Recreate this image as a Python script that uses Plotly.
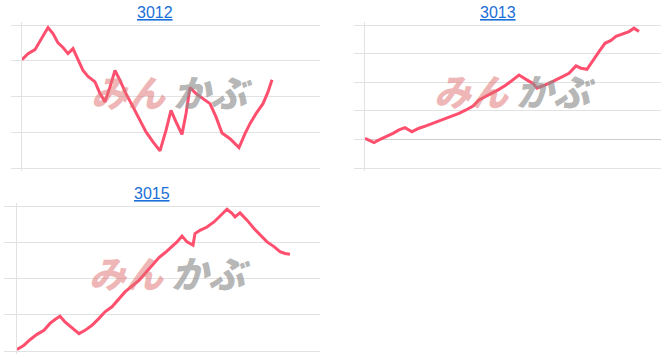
import plotly.graph_objects as go

W, H = 666, 357

# ---- data (x = trading-day offset, y = relative price level) ----
names = ["3012", "3013", "3015"]

days_3012 = [0, 6, 13, 19, 26, 31, 36, 41, 46, 51, 56, 61, 66, 73, 78, 83, 88, 93, 98, 104,
             111, 118, 124, 131, 138, 144, 149, 154, 160, 164, 168, 174, 181, 188, 194, 200,
             208, 217, 223, 228, 234, 241, 246, 250]
vals_3012 = [3.03, 3.20, 3.31, 3.59, 3.93, 3.76, 3.50, 3.37, 3.20, 3.34, 3.01, 2.73, 2.56, 2.41,
             2.08, 1.85, 2.27, 2.73, 2.45, 2.08, 1.71, 1.33, 1.01, 0.73, 0.48, 1.05, 1.61, 1.29,
             0.94, 1.52, 2.25, 2.08, 1.94, 1.80, 1.43, 0.98, 0.82, 0.57, 0.96, 1.24, 1.52, 1.80,
             2.13, 2.47]

days_3013 = [0, 4, 9, 14, 21, 28, 34, 40, 47, 54, 61, 68, 74, 81, 88, 94, 101, 108, 114, 121,
             128, 134, 141, 148, 154, 161, 168, 172, 178, 184, 191, 198, 204, 211, 216, 222, 228,
             234, 240, 246, 251, 258, 264, 269, 274]
vals_3013 = [0.04, -0.02, -0.11, -0.02, 0.09, 0.21, 0.33, 0.41, 0.27, 0.39, 0.47, 0.56, 0.65,
             0.74, 0.82, 0.91, 1.03, 1.17, 1.38, 1.50, 1.64, 1.75, 1.90, 2.08, 2.25, 2.10, 1.96,
             1.79, 1.87, 1.96, 2.08, 2.20, 2.31, 2.57, 2.49, 2.45, 2.78, 3.07, 3.36, 3.46, 3.60,
             3.69, 3.77, 3.89, 3.77]

days_3015 = [0, 7, 13, 20, 27, 33, 38, 43, 48, 55, 62, 68, 75, 82, 88, 95, 102, 108, 115, 122,
             128, 135, 142, 148, 155, 160, 165, 170, 176, 178, 183, 190, 197, 203, 210, 215, 218,
             223, 230, 237, 243, 250, 257, 263, 268, 273]
vals_3015 = [0.04, 0.16, 0.31, 0.46, 0.57, 0.76, 0.87, 0.96, 0.80, 0.65, 0.48, 0.57, 0.71, 0.90,
             1.08, 1.22, 1.45, 1.63, 1.79, 1.95, 2.14, 2.37, 2.58, 2.71, 2.88, 3.01, 3.17, 3.01,
             2.92, 3.24, 3.33, 3.42, 3.56, 3.72, 3.91, 3.80, 3.70, 3.81, 3.61, 3.38, 3.20, 3.01,
             2.88, 2.74, 2.69, 2.67]

x_ranges = [[0, 298], [0, 296], [0, 303]]
y_grid = [[0, 4], [-1, 4], [0, 4]]   # first/last gridline values

# ---- layout in pixels ----
LINE = "#ff4f6e"
GRID = "#e2e2e2"
panels = [  # left, right, top gridline, bottom gridline (px)
    (22, 320, 25, 168),
    (365, 661, 25, 168),
    (17, 320, 206, 351),
]
PAD = 3  # px of extra plot area beyond the outer gridlines
ticklens = [10, 10, 12]
titles_pos = [(155, 13), (498, 13), (152, 193)]
wm_pos = [(171, 91), (514, 90), (169, 272)]

series = [(days_3012, vals_3012), (days_3013, vals_3013), (days_3015, vals_3015)]

fig = go.Figure()
layout = dict(
    width=W, height=H, margin=dict(l=0, r=0, t=0, b=0),
    paper_bgcolor="white", plot_bgcolor="white", showlegend=False,
    font=dict(family="Liberation Sans, Arial, sans-serif"),
)
annotations = []

for i, ((xs, ys), (l, r, t, b)) in enumerate(zip(series, panels)):
    n = "" if i == 0 else str(i + 1)
    g0, g1 = y_grid[i]
    upp = (g1 - g0) / (b - t)  # units per pixel
    yr = [g0 - PAD * upp, g1 + PAD * upp]
    fig.add_trace(go.Scatter(x=xs, y=ys, mode="lines", xaxis="x" + n, yaxis="y" + n,
                             line=dict(color=LINE, width=3), hoverinfo="skip"))
    layout["xaxis" + n] = dict(domain=[l / W, r / W], range=x_ranges[i], anchor="y" + n,
                               showgrid=False, zeroline=False, showline=False,
                               showticklabels=False, ticks="", fixedrange=True)
    layout["yaxis" + n] = dict(domain=[1 - (b + PAD) / H, 1 - (t - PAD) / H], range=yr,
                               anchor="x" + n,
                               dtick=1, tick0=0, showgrid=True, gridcolor=GRID, gridwidth=1,
                               zeroline=(i == 1), zerolinecolor="#cdcdcd", zerolinewidth=1,
                               showline=True, linecolor=GRID, linewidth=1,
                               ticks="outside", ticklen=ticklens[i], tickcolor=GRID, tickwidth=1,
                               showticklabels=False, fixedrange=True)
    tx, ty = titles_pos[i]
    annotations.append(dict(
        x=tx / W, y=1 - ty / H, xref="paper", yref="paper", xanchor="center", yanchor="middle",
        text="<span style='text-decoration:underline'>" + names[i] + "</span>",
        showarrow=False, font=dict(size=16, color="#1a6fd8", family="Liberation Sans, Arial")))
    wx, wy = wm_pos[i]
    annotations.append(dict(
        x=(wx - 42) / W, y=1 - wy / H, xref="paper", yref="paper", xanchor="center",
        yanchor="middle", text="みん", showarrow=False,
        font=dict(size=37, color="rgba(222,110,110,0.5)", family="Noto Sans CJK JP",
                  style="italic", weight=900)))
    annotations.append(dict(
        x=(wx + 42) / W, y=1 - wy / H, xref="paper", yref="paper", xanchor="center",
        yanchor="middle", text="かぶ", showarrow=False,
        font=dict(size=37, color="rgba(140,140,140,0.65)", family="Noto Sans CJK JP",
                  style="italic", weight=900)))

layout["annotations"] = annotations
fig.update_layout(**layout)
fig.write_html("out.html")
